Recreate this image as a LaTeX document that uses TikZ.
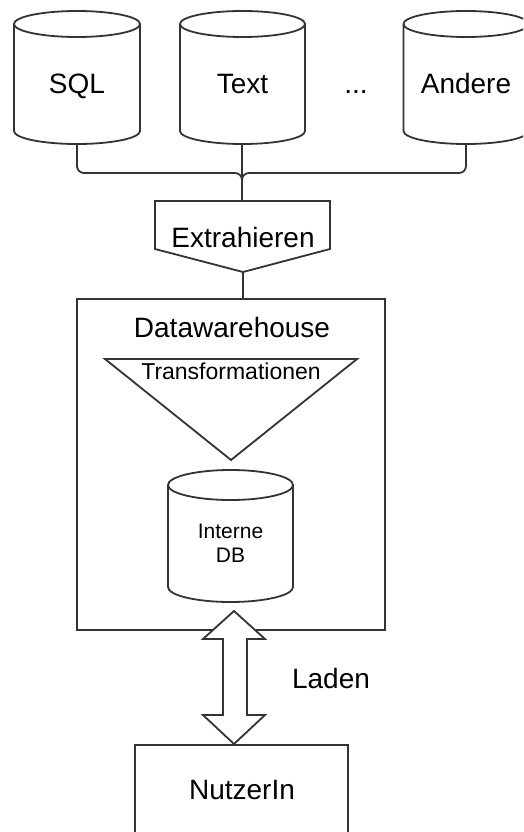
\documentclass[tikz,border=0pt]{standalone}
\usepackage{fontspec}
\setmainfont{Liberation Sans}
\definecolor{ln}{HTML}{333333}
\tikzset{
  ln/.style={draw=ln, line width=1.8pt, line join=miter},
  lbl/.style={anchor=base, inner sep=0pt, font=\fontsize{28}{32}\selectfont},
}
\newcommand\drawcyl[5]{%
  \draw[ln, fill=white] (#1-#2,#3) -- (#1-#2,#4) arc[start angle=180,end angle=0,x radius=#2,y radius=#5] -- (#1+#2,#3);
  \draw[ln] (#1,#3) ellipse[x radius=#2,y radius=#5];}
\begin{document}
\begin{tikzpicture}[x=1pt,y=-1pt]
\useasboundingbox (0,0) rectangle (523,832);
\clip (0,0) rectangle (523,832);
% source cylinders
\drawcyl{77}{63}{24}{131}{13}
\drawcyl{242.5}{62.5}{24}{131}{13}
\drawcyl{466}{62.5}{24}{131}{13}
\node[lbl] (sql) at (77,94) {SQL};
\node[lbl] (text) at (242.5,94) {Text};
\node[lbl] (dots) at (356,94) {...};
\node[lbl] (andere) at (466,94) {Andere};
\coordinate (sqlB) at (77,144);
\coordinate (textB) at (242,144);
\coordinate (andB) at (466,144);
% Extrahieren
\draw[ln] (155,201) -- (330,201) -- (330,249) -- (243,272) -- (155,249) -- cycle;
\node[lbl] (extr) at (243,247) {Extrahieren};
\coordinate (extrT) at (242,201);
\coordinate (extrB) at (243,272);
% connectors
\draw[ln, rounded corners=7pt] (sqlB) -- (77,173) -- (242,173) -- (extrT);
\draw[ln, rounded corners=7pt] (andB) -- (466,173) -- (242,173) -- (extrT);
\draw[ln] (textB) -- (extrT);
% Datawarehouse
\draw[ln] (77,299) rectangle (385,630);
\node[lbl] (dw) at (232,337) {Datawarehouse};
\coordinate (dwT) at (243,299);
\draw[ln] (extrB) -- (dwT);
\draw[ln] (105,359) -- (357,359) -- (231,460) -- cycle;
\node[lbl, font=\fontsize{23}{26}\selectfont] (trans) at (231,379) {Transformationen};
\drawcyl{230.5}{62.5}{485}{587}{15}
\node[lbl, font=\fontsize{21}{24}\selectfont] (int1) at (230.5,538) {Interne};
\node[lbl, font=\fontsize{21}{24}\selectfont] (int2) at (230.5,562) {DB};
% double arrow
\draw[ln, fill=white] (234,611) -- (265,639) -- (247,639) -- (247,715) -- (265,715) -- (234,744)
  -- (203,715) -- (223,715) -- (223,639) -- (203,639) -- cycle;
\node[lbl] (laden) at (331,688) {Laden};
% NutzerIn
\draw[ln] (135,745) rectangle (348,860);
\node[lbl] (user) at (242,799) {NutzerIn};
\end{tikzpicture}
\end{document}
